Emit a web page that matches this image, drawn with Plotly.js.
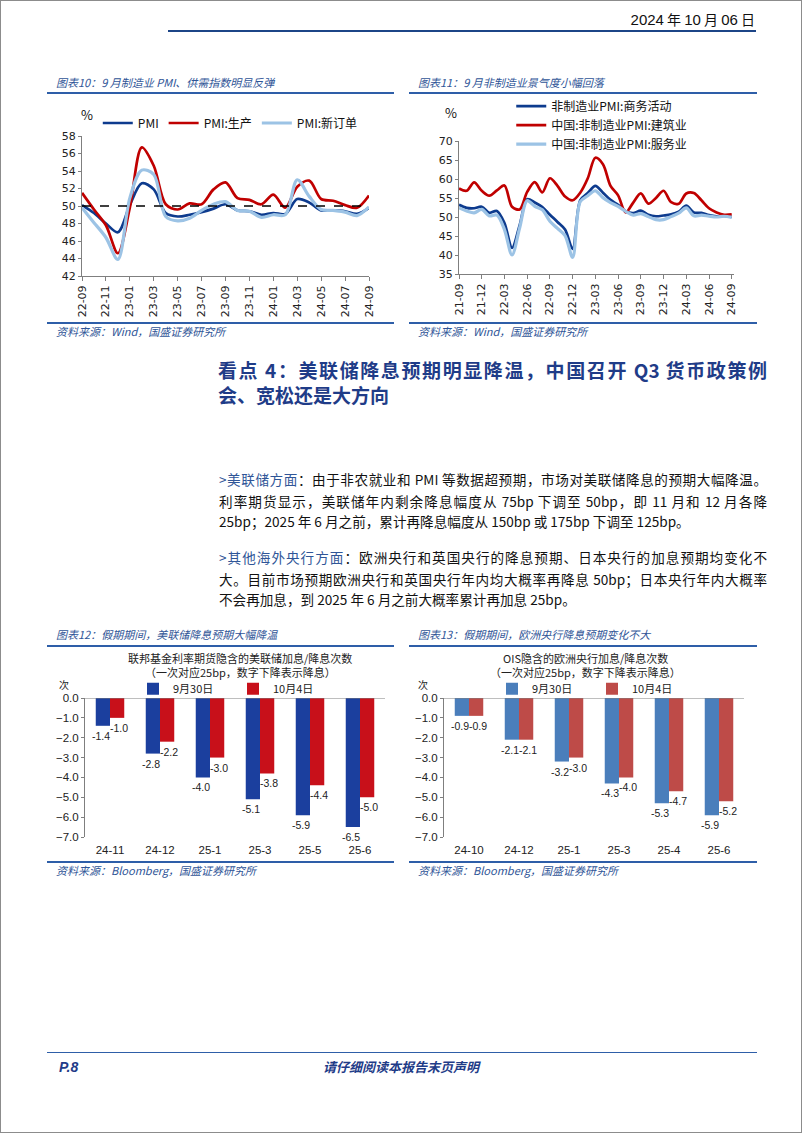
<!DOCTYPE html>
<html><head><meta charset="utf-8">
<script src="https://cdn.plot.ly/plotly-3.0.1.min.js"></script>
<style>
html,body{margin:0;padding:0;background:#fff;}
#page{position:relative;width:802px;height:1133px;box-sizing:border-box;border:1px solid #8c8c8c;overflow:hidden;font-family:"Noto Sans CJK SC","Noto Sans",sans-serif;color:#111;background:#fff;}
.cap{position:absolute;font-size:11px;font-style:italic;color:#2f5597;white-space:nowrap;line-height:14px;}
.hr{position:absolute;height:2px;background:#2e5ea8;}
.chart{position:absolute;}
.head{position:absolute;left:217px;width:549px;font-size:19px;line-height:21px;font-weight:bold;color:#1f3c88;}
.ln{position:absolute;left:218px;width:548px;font-size:13.6px;line-height:20px;text-align:justify;text-align-last:justify;color:#111;}
.last{text-align-last:left;}
.hl{color:#2f5597;}
</style>
</head>
<body>
<div id="page">
  <div style="position:absolute;right:46px;top:8px;font-size:14px;line-height:20px;color:#111;white-space:nowrap;"><span style="font-family:'Liberation Sans Narrow','Liberation Sans';font-size:15px;">2024</span> 年 <span style="font-family:'Liberation Sans Narrow','Liberation Sans';font-size:15px;">10</span> 月 <span style="font-family:'Liberation Sans Narrow','Liberation Sans';font-size:15px;">06</span> 日</div>
  <div class="hr" style="left:167px;top:29px;width:588px;background:#1c4587;"></div>

  <div class="cap" style="left:55px;top:74px;">图表10：9 月制造业 PMI、供需指数明显反弹</div>
  <div class="hr" style="left:46px;top:91px;width:347px;"></div>
  <div class="cap" style="left:417px;top:74px;">图表11：9 月非制造业景气度小幅回落</div>
  <div class="hr" style="left:408px;top:91px;width:348px;"></div>

  <div id="c1" class="chart" style="left:40px;top:95px;"></div>
  <div id="c2" class="chart" style="left:405px;top:94px;"></div>

  <div class="hr" style="left:46px;top:321px;width:347px;"></div>
  <div class="cap" style="left:55px;top:323px;">资料来源：Wind，国盛证券研究所</div>
  <div class="hr" style="left:408px;top:321px;width:348px;"></div>
  <div class="cap" style="left:417px;top:323px;">资料来源：Wind，国盛证券研究所</div>

  <div class="head" style="top:358px;text-align:justify;text-align-last:justify;">看点 4：美联储降息预期明显降温，中国召开 Q3 货币政策例</div>
  <div class="head" style="top:383px;">会、宽松还是大方向</div>

  <div class="ln" style="top:468px;"><span class="hl">&gt;美联储方面</span>：由于非农就业和 PMI 等数据超预期，市场对美联储降息的预期大幅降温。</div>
  <div class="ln" style="top:490px;">利率期货显示，美联储年内剩余降息幅度从 75bp 下调至 50bp，即 11 月和 12 月各降</div>
  <div class="ln last" style="top:510px;">25bp；2025 年 6 月之前，累计再降息幅度从 150bp 或 175bp 下调至 125bp。</div>

  <div class="ln" style="top:546px;"><span class="hl">&gt;其他海外央行方面</span>：欧洲央行和英国央行的降息预期、日本央行的加息预期均变化不</div>
  <div class="ln" style="top:568px;">大。目前市场预期欧洲央行和英国央行年内均大概率再降息 50bp；日本央行年内大概率</div>
  <div class="ln last" style="top:588px;">不会再加息，到 2025 年 6 月之前大概率累计再加息 25bp。</div>

  <div class="cap" style="left:55px;top:626px;">图表12：假期期间，美联储降息预期大幅降温</div>
  <div class="hr" style="left:46px;top:644px;width:347px;"></div>
  <div class="cap" style="left:417px;top:626px;">图表13：假期期间，欧洲央行降息预期变化不大</div>
  <div class="hr" style="left:408px;top:644px;width:348px;"></div>

  <div id="c3" class="chart" style="left:40px;top:647px;"></div>
  <div id="c4" class="chart" style="left:405px;top:647px;"></div>

  <div class="hr" style="left:46px;top:860px;width:347px;"></div>
  <div class="cap" style="left:55px;top:862px;">资料来源：Bloomberg，国盛证券研究所</div>
  <div class="hr" style="left:408px;top:860px;width:348px;"></div>
  <div class="cap" style="left:417px;top:862px;">资料来源：Bloomberg，国盛证券研究所</div>

  <div class="hr" style="left:46px;top:1051px;width:710px;height:1px;"></div>
  <div style="position:absolute;left:58px;top:1057px;font-size:14px;line-height:18px;font-weight:bold;font-style:italic;color:#1f3c88;font-family:'Liberation Sans';">P.8</div>
  <div style="position:absolute;left:0;width:800px;top:1057px;text-align:center;font-size:13px;line-height:18px;font-weight:bold;font-style:italic;color:#1f3c88;">请仔细阅读本报告末页声明</div>
</div>

<script>
// ---------- Chart 10: manufacturing PMI ----------
const months1 = ['22-09','22-10','22-11','22-12','23-01','23-02','23-03','23-04','23-05','23-06','23-07','23-08','23-09','23-10','23-11','23-12','24-01','24-02','24-03','24-04','24-05','24-06','24-07','24-08','24-09'];
const pmi      = [50.1,49.2,48.0,47.0,50.1,52.6,51.9,49.2,48.8,49.0,49.3,49.7,50.2,49.5,49.4,49.0,49.2,49.1,50.8,50.4,49.5,49.5,49.4,49.1,49.8];
const pmiProd  = [51.5,49.6,47.8,44.6,49.8,56.7,54.6,50.2,49.6,50.3,50.2,51.9,52.7,50.9,50.7,50.2,51.3,49.8,52.2,52.9,50.8,50.6,50.1,49.8,51.2];
const pmiNew   = [49.8,48.1,46.4,43.9,50.9,54.1,53.6,48.8,48.3,48.6,49.5,50.2,50.5,49.5,49.4,48.7,49.0,49.0,53.0,51.1,49.6,49.5,49.3,48.9,49.9];
const ticks1   = ['22-09','22-11','23-01','23-03','23-05','23-07','23-09','23-11','24-01','24-03','24-05','24-07','24-09'];
const names1   = ['PMI','PMI:生产','PMI:新订单'];

// ---------- Chart 11: non-manufacturing PMI ----------
const months2 = ['21-09','21-10','21-11','21-12','22-01','22-02','22-03','22-04','22-05','22-06','22-07','22-08','22-09','22-10','22-11','22-12','23-01','23-02','23-03','23-04','23-05','23-06','23-07','23-08','23-09','23-10','23-11','23-12','24-01','24-02','24-03','24-04','24-05','24-06','24-07','24-08','24-09'];
const nmBiz    = [53.2,52.4,52.3,52.7,51.1,51.6,48.4,41.9,47.8,54.7,53.8,52.6,50.6,48.7,46.7,41.6,54.4,56.3,58.2,56.4,54.5,53.2,51.5,51.0,51.7,50.6,50.2,50.4,50.7,51.4,53.0,51.2,51.1,50.5,50.2,50.3,50.0];
const nmBuild  = [57.5,56.9,59.1,56.9,55.6,57.0,58.3,52.7,52.0,56.6,59.2,56.5,60.2,58.2,55.4,54.4,56.4,60.2,65.6,63.9,58.2,55.7,51.2,53.8,56.2,53.5,55.0,56.9,53.9,53.5,56.2,56.3,54.4,52.3,51.2,50.6,50.7];
const nmServ   = [52.4,51.6,51.1,52.0,50.3,50.5,46.7,40.0,47.1,54.3,52.8,51.9,48.9,47.0,45.1,39.4,54.0,55.6,56.9,55.1,53.8,52.8,51.5,50.5,50.9,50.1,49.3,49.3,50.1,51.0,52.4,50.3,50.5,50.2,50.0,50.2,49.9];
const ticks2   = ['21-09','21-12','22-03','22-06','22-09','22-12','23-03','23-06','23-09','23-12','24-03','24-06','24-09'];
const names2   = ['非制造业PMI:商务活动','中国:非制造业PMI:建筑业','中国:非制造业PMI:服务业'];

// ---------- Chart 12: Fed ----------
const cats3   = ['24-11','24-12','25-1','25-3','25-5','25-6'];
const fedSep30 = [-1.4,-2.8,-4.0,-5.1,-5.9,-6.5];
const fedOct4  = [-1.0,-2.2,-3.0,-3.8,-4.4,-5.0];
// ---------- Chart 13: ECB ----------
const cats4   = ['24-10','24-12','25-1','25-3','25-4','25-6'];
const ecbSep30 = [-0.9,-2.1,-3.2,-4.3,-5.3,-5.9];
const ecbOct4  = [-0.9,-2.1,-3.0,-4.0,-4.7,-5.2];
const seriesNames = ['9月30日','10月4日'];

const TICKFONT = {family:'DejaVu Sans', size:11, color:'#222'};
const CJK = 'Noto Sans CJK SC';
const cfg = {displayModeBar:false, staticPlot:true};
const DARK = '#0d3b8e', RED = '#c00000', LIGHT = '#9cc3e5';

function lineTrace(x, y, name, color, w){
  return {x:x, y:y, name:name, type:'scatter', mode:'lines',
          line:{color:color, width:w, shape:'spline', smoothing:0.9}};
}
const axisBase = {showline:true, linecolor:'#7f7f7f', linewidth:1, ticks:'outside', ticklen:4, tickcolor:'#7f7f7f', showgrid:false, zeroline:false, automargin:false, tickfont:TICKFONT};

// Chart 1 : plot area x 81..368, y 135..275
Plotly.newPlot('c1', [
  lineTrace(months1, pmi, names1[0], DARK, 2.7),
  lineTrace(months1, pmiProd, names1[1], RED, 2.7),
  lineTrace(months1, pmiNew, names1[2], LIGHT, 3.2)
], {
  width:360, height:230, margin:{l:41, r:32, t:40, b:50, autoexpand:false},
  paper_bgcolor:'rgba(0,0,0,0)', plot_bgcolor:'rgba(0,0,0,0)',
  xaxis:Object.assign({}, axisBase, {type:'category', range:[0,24], tickmode:'array', tickvals:ticks1, ticktext:ticks1, tickangle:-90}),
  yaxis:Object.assign({}, axisBase, {range:[42,58], dtick:2, ticklen:3}),
  showlegend:true,
  legend:{orientation:'h', x:0.055, y:1.093, xanchor:'left', yanchor:'middle', bgcolor:'rgba(0,0,0,0)', font:{family:CJK, size:12, color:'#111'}, traceorder:'normal'},
  shapes:[{type:'line', xref:'paper', x0:0, x1:1, yref:'y', y0:50, y1:50, line:{color:'#000', width:1.4, dash:'dash'}}],
  annotations:[{text:'%', xref:'paper', yref:'paper', x:0.017, y:1.157, xanchor:'center', yanchor:'middle', showarrow:false, font:{family:CJK, size:13, color:'#111'}}]
}, cfg);

// Chart 2 : plot area x 458..733, y 140..273
Plotly.newPlot('c2', [
  lineTrace(months2, nmBiz, names2[0], DARK, 2.7),
  lineTrace(months2, nmBuild, names2[1], RED, 2.7),
  lineTrace(months2, nmServ, names2[2], LIGHT, 3.2)
], {
  width:360, height:231, margin:{l:53, r:32, t:46, b:52, autoexpand:false},
  paper_bgcolor:'rgba(0,0,0,0)', plot_bgcolor:'rgba(0,0,0,0)',
  xaxis:Object.assign({}, axisBase, {type:'category', range:[0,36.3], tickmode:'array', tickvals:ticks2, ticktext:ticks2, tickangle:-90}),
  yaxis:Object.assign({}, axisBase, {range:[35,70], dtick:5, ticklen:3}),
  showlegend:true,
  legend:{orientation:'v', x:0.19, y:1.12, xanchor:'left', yanchor:'middle', bgcolor:'rgba(0,0,0,0)', font:{family:CJK, size:12, color:'#111'}, traceorder:'normal', tracegroupgap:0},
  annotations:[{text:'%', xref:'paper', yref:'paper', x:-0.028, y:1.213, xanchor:'center', yanchor:'middle', showarrow:false, font:{family:CJK, size:13, color:'#111'}}]
}, cfg);

function barChart(id, cats, a, b, colA, colB, t1, t2, ml, mr, tx){
  const mk = (y, name, col) => ({x:cats, y:y, name:name, type:'bar', marker:{color:col}});
  const lab = (y, shift) => y.map((v, i) => ({x:cats[i], y:v, xref:'x', yref:'y', text:v.toFixed(1),
      showarrow:false, xanchor:'center', yanchor:'top', xshift:shift, yshift:-2,
      font:{family:'Liberation Sans', size:10.5, color:'#222'}}));
  const ttl = (txt, y) => ({text:txt, xref:'paper', yref:'paper', x:tx, y:y, xanchor:'center', yanchor:'middle',
      showarrow:false, font:{family:CJK, size:11, color:'#222'}});
  Plotly.newPlot(id, [mk(a, seriesNames[0], colA), mk(b, seriesNames[1], colB)], {
    width:360, height:218, margin:{l:ml, r:mr, t:50, b:29, autoexpand:false},
    paper_bgcolor:'rgba(0,0,0,0)', plot_bgcolor:'rgba(0,0,0,0)',
    barmode:'group', bargap:0.43, bargroupgap:0,
    xaxis:{type:'category', showline:false, ticks:'', showgrid:false, zeroline:false, automargin:false, ticklabelstandoff:4, tickfont:{family:'Liberation Sans', size:11.5, color:'#222'}},
    yaxis:Object.assign({}, axisBase, {range:[-7,0], dtick:1, tickformat:'.1f', ticklen:3, tickfont:{family:'Liberation Sans', size:11.5, color:'#222'}}),
    showlegend:true,
    legend:{orientation:'h', x:0.16, y:1.066, xanchor:'left', yanchor:'middle', bgcolor:'rgba(0,0,0,0)', font:{family:CJK, size:11, color:'#222'}, entrywidth:55, traceorder:'normal'},
    shapes:[{type:'line', xref:'paper', x0:0, x1:1, yref:'y', y0:0, y1:0, line:{color:'#7f7f7f', width:1}}],
    annotations:[
      ttl(t1, 1.285), ttl(t2, 1.185),
      {text:'次', xref:'paper', yref:'paper', x:-0.07, y:1.096, xanchor:'center', yanchor:'middle', showarrow:false, font:{family:CJK, size:10, color:'#222'}}
    ].concat(lab(a, -9)).concat(lab(b, 9))
  }, cfg);
}
barChart('c3', cats3, fedSep30, fedOct4, '#1b3f9e', '#c8101a', '联邦基金利率期货隐含的美联储加息/降息次数', '（一次对应25bp，数字下降表示降息）', 44, 16, 0.517);
barChart('c4', cats4, ecbSep30, ecbOct4, '#4a7ebb', '#be4b48', 'OIS隐含的欧洲央行加息/降息次数', '（一次对应25bp，数字下降表示降息）', 38, 22, 0.47);
</script>
</body></html>
